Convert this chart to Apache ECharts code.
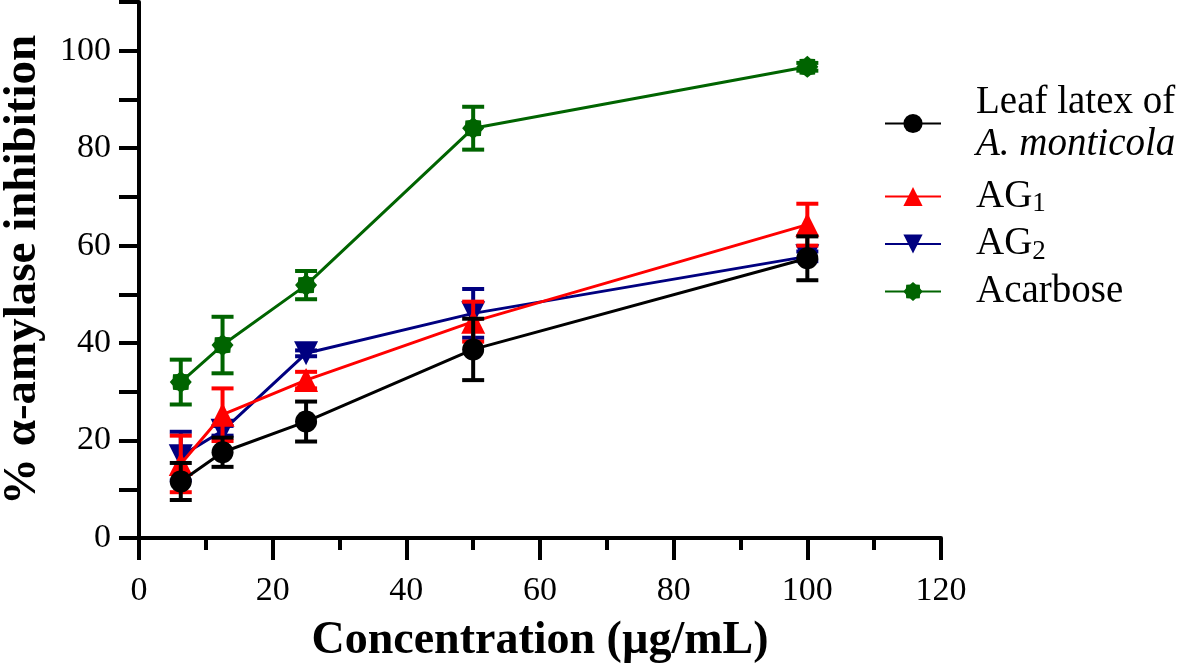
<!DOCTYPE html>
<html>
<head>
<meta charset="utf-8">
<script src="https://cdn.jsdelivr.net/npm/echarts@6/dist/echarts.min.js"></script>
<style>
	html, body { margin: 0; padding: 0; background: #ffffff; }
	#chart { width: 1181px; height: 668px; }
</style>
</head>
<body>
<div id="chart"></div>
<script>
	// concentrations (ug/mL)
	var conc = [6.25, 12.5, 25, 50, 100];
	// % inhibition, mean and error
	var leafMean = [11.6, 17.6, 23.9, 38.7, 57.4];
	var leafErr = [3.8, 3.0, 4.1, 6.3, 4.5];
	var ag1Mean = [15.2, 25.3, 32.4, 44.4, 64.3];
	var ag1Err = [5.8, 5.4, 1.7, 4.1, 4.3];
	var ag2Mean = [16.8, 22.0, 37.9, 46.1, 57.8];
	var ag2Err = [5.0, 1.0, 0.6, 5.0, 1.0];
	var acarMean = [32.0, 39.6, 51.9, 84.1, 96.7];
	var acarErr = [4.6, 5.8, 2.9, 4.4, 0.8];

	var serif = "'Liberation Serif', 'Times New Roman', serif";

	// gear-like marker for acarbose
	function gearPath() {
		var pts = [];
		var n = 16;
		for (var k = 0; k < n; k++) {
			var a = k * Math.PI * 2 / n - Math.PI / 2;
			var r = (k % 2 === 0) ? 10 : 8;
			pts.push((10 + r * Math.cos(a)).toFixed(2) + ' ' + (10 + r * Math.sin(a)).toFixed(2));
		}
		return 'path://M' + pts.join(' L') + ' Z';
	}

	function pairs(mean) {
		return conc.map(function(c, i) { return [c, mean[i]]; });
	}
	function bars(mean, err) {
		return conc.map(function(c, i) { return [c, mean[i] - err[i], mean[i] + err[i]]; });
	}

	function errSeries(mean, err, color, z) {
		return {
			type: 'custom',
			z: z,
			silent: true,
			data: bars(mean, err),
			renderItem: function(params, api) {
				var top = api.coord([api.value(0), api.value(2)]);
				var bot = api.coord([api.value(0), api.value(1)]);
				var w = 11;
				var st = { stroke: color, lineWidth: 4 };
				return {
					type: 'group',
					children: [
						{ type: 'line', shape: { x1: top[0], y1: top[1], x2: bot[0], y2: bot[1] }, style: st },
						{ type: 'line', shape: { x1: top[0] - w, y1: top[1], x2: top[0] + w, y2: top[1] }, style: st },
						{ type: 'line', shape: { x1: bot[0] - w, y1: bot[1], x2: bot[0] + w, y2: bot[1] }, style: st }
					]
				};
			}
		};
	}

	function lineSeries(name, mean, color, symbol, size, z) {
		return {
			name: name,
			type: 'line',
			z: z,
			data: pairs(mean),
			symbol: symbol,
			symbolSize: size,
			color: color,
			lineStyle: { color: color, width: 3 },
			itemStyle: { color: color, opacity: 1 },
			emphasis: { disabled: true }
		};
	}

	// legend text
	var legendText = {
		fontFamily: serif, fontSize: 39, color: '#000', padding: [0, 0, 0, 30],
		rich: {
			n: { fontFamily: serif, fontSize: 39, color: '#000', lineHeight: 42 },
			i: { fontFamily: serif, fontSize: 39, color: '#000', fontStyle: 'italic', lineHeight: 42 },
			s: { fontFamily: serif, fontSize: 27, color: '#000', lineHeight: 22, verticalAlign: 'bottom' }
		}
	};
	function legendFmt(name) {
		if (name === 'Leaf') return '{n|Leaf latex of}\n{i|A. monticola}';
		if (name === 'AG1') return '{n|AG}{s|1}';
		if (name === 'AG2') return '{n|AG}{s|2}';
		return '{n|' + name + '}{s| }';
	}
	function legendBox(names, top, gap) {
		return {
			data: names,
			orient: 'vertical',
			left: 884,
			top: top,
			padding: 0,
			itemWidth: 56,
			itemHeight: 24,
			itemGap: gap,
			selectedMode: false,
			textStyle: legendText,
			formatter: legendFmt
		};
	}

	var chart = echarts.init(document.getElementById('chart'));
	var option = {
		animation: false,
		backgroundColor: '#ffffff',
		grid: { left: 139, right: 240, top: 2, bottom: 130, containLabel: false, outerBoundsMode: 'none' },
		xAxis: {
			type: 'value',
			min: 0,
			max: 120,
			interval: 20,
			name: 'Concentration (\u00b5g/mL)',
			nameLocation: 'middle',
			nameGap: 80,
			nameTextStyle: { fontFamily: serif, fontWeight: 'bold', fontSize: 46, color: '#000' },
			axisLine: { lineStyle: { color: '#000', width: 4 } },
			axisTick: { show: true, length: 22, lineStyle: { color: '#000', width: 4 } },
			minorTick: { show: true, splitNumber: 2, length: 12, lineStyle: { color: '#000', width: 4 } },
			axisLabel: { fontFamily: serif, fontSize: 34, color: '#000', margin: 36 },
			splitLine: { show: false }
		},
		yAxis: {
			type: 'value',
			min: 0,
			max: 110,
			interval: 10,
			name: '% \u03b1-amylase inhibition',
			nameLocation: 'middle',
			nameGap: 93,
			nameTextStyle: { fontFamily: serif, fontWeight: 'bold', fontSize: 47, color: '#000' },
			axisLine: { lineStyle: { color: '#000', width: 4 } },
			axisTick: { show: true, length: 20, lineStyle: { color: '#000', width: 4 } },
			axisLabel: {
				fontFamily: serif, fontSize: 34, color: '#000', margin: 28,
				formatter: function(v) { return v % 20 === 0 ? String(v) : ''; }
			},
			splitLine: { show: false }
		},
		legend: [
			legendBox(['Leaf'], 83, 0),
			legendBox(['AG1', 'AG2', 'Acarbose'], 177, 7)
		],
		series: [
			errSeries(acarMean, acarErr, '#006400', 2),
			lineSeries('Acarbose', acarMean, '#006400', gearPath(), 22, 3),
			errSeries(ag2Mean, ag2Err, '#000080', 4),
			lineSeries('AG2', ag2Mean, '#000080', 'path://M0 0 L20 0 L10 18 Z', 24, 5),
			errSeries(ag1Mean, ag1Err, '#ff0000', 6),
			lineSeries('AG1', ag1Mean, '#ff0000', 'triangle', 24, 7),
			errSeries(leafMean, leafErr, '#000000', 8),
			lineSeries('Leaf', leafMean, '#000000', 'circle', 22, 9)
		]
	};
	chart.setOption(option);
</script>
</body>
</html>
